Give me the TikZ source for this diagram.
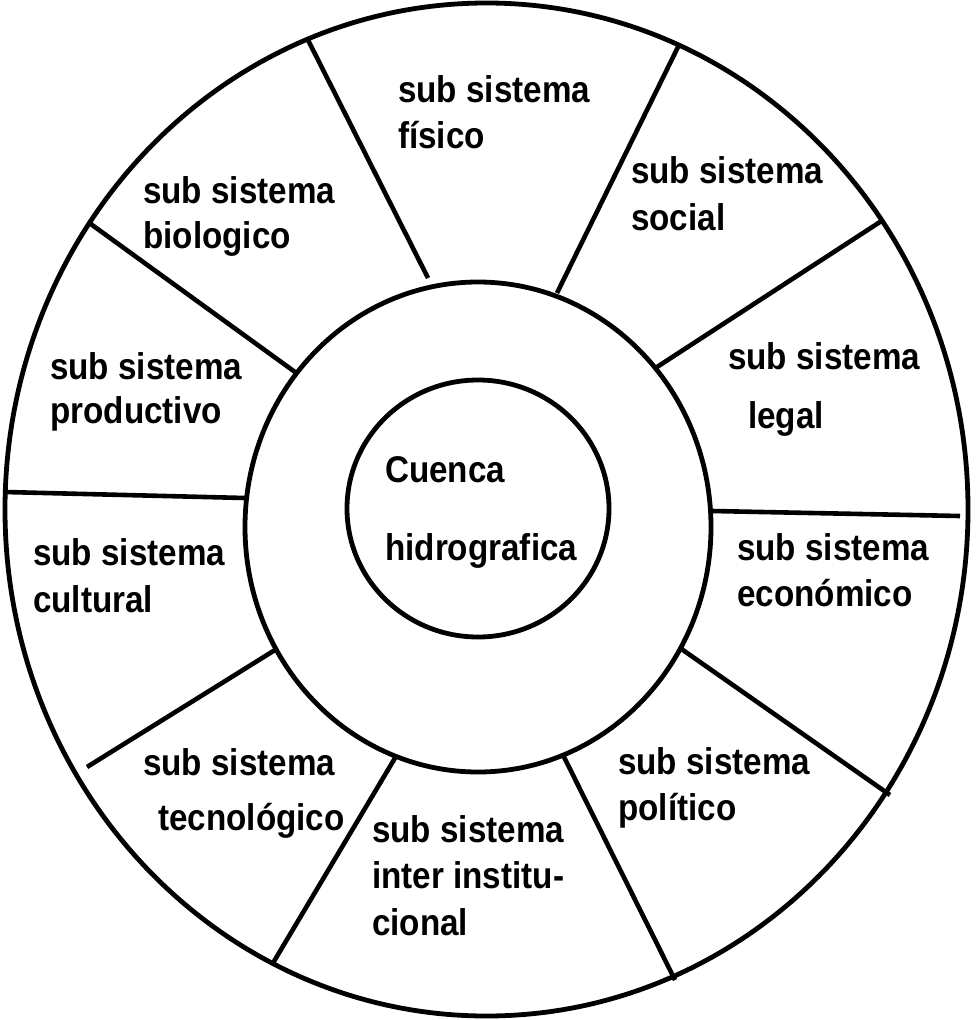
\documentclass[tikz,border=0pt]{standalone}
\usepackage{fontspec}
\usepackage{tikz}
\usetikzlibrary{
    positioning,
    shapes.geometric
}
\newfontfamily\lblfont{Liberation Sans}[FakeStretch=0.893]
\tikzset{
  ring/.style  = {draw, ellipse, line width=4.8pt, inner sep=0pt},
  spoke/.style = {line width=4.6pt}
}

\begin{document}
\begin{tikzpicture}[
    x=1pt, y=-1pt,
    lbl/.style={anchor=base west, inner sep=0pt,
                font=\lblfont\bfseries\fontsize{37.2}{44}\selectfont}
]
\useasboundingbox (0,0) rectangle (975,1020);

% rings
\node[ring, minimum width=963pt, minimum height=1013pt] (rim) at (486.5,509.5) {};
\node[ring, minimum width=466pt, minimum height=490pt] (band) at (478,527) {};
\node[ring, minimum width=262pt, minimum height=257pt] (hub) at (478,508.5) {};

% spoke ends
\coordinate (in1) at (428,278);  \coordinate (out1) at (308,40);
\coordinate (in2) at (557,293);  \coordinate (out2) at (678,47);
\coordinate (in3) at (657,367);  \coordinate (out3) at (883,220);
\coordinate (in4) at (712,511);  \coordinate (out4) at (960,516);
\coordinate (in5) at (680,648);  \coordinate (out5) at (890,795);
\coordinate (in6) at (563,755);  \coordinate (out6) at (675,980);
\coordinate (in7) at (395,758);  \coordinate (out7) at (273,963);
\coordinate (in8) at (275,650);  \coordinate (out8) at (87,767);
\coordinate (in9) at (245,498);  \coordinate (out9) at (5,492);
\coordinate (in10) at (295,372); \coordinate (out10) at (88,222);

\draw[spoke] (in1) -- (out1);
\draw[spoke] (in2) -- (out2);
\draw[spoke] (in3) -- (out3);
\draw[spoke] (in4) -- (out4);
\draw[spoke] (in5) -- (out5);
\draw[spoke] (in6) -- (out6);
\draw[spoke] (in7) -- (out7);
\draw[spoke] (in8) -- (out8);
\draw[spoke] (in9) -- (out9);
\draw[spoke] (in10) -- (out10);

% centre
\node[lbl] (cue1) at (385,482) {Cuenca};
\node[lbl] (cue2) at (385,560) {hidrografica};

% sectors
\node[lbl] (fis1) at (398,102) {sub sistema};
\node[lbl] (fis2) at (398,148) {físico};
\node[lbl] (soc1) at (631,183) {sub sistema};
\node[lbl] (soc2) at (631,230) {social};
\node[lbl] (leg1) at (728,369) {sub sistema};
\node[lbl] (leg2) at (748,428) {legal};
\node[lbl] (eco1) at (737,560) {sub sistema};
\node[lbl] (eco2) at (737,606) {económico};
\node[lbl] (pol1) at (618,774) {sub sistema};
\node[lbl] (pol2) at (618,820) {político};
\node[lbl] (int1) at (372,842) {sub sistema};
\node[lbl] (int2) at (372,888) {inter institu-};
\node[lbl] (int3) at (372,935) {cional};
\node[lbl] (tec1) at (143,775) {sub sistema};
\node[lbl] (tec2) at (158,830) {tecnológico};
\node[lbl] (cul1) at (33,565) {sub sistema};
\node[lbl] (cul2) at (33,612) {cultural};
\node[lbl] (pro1) at (50,379) {sub sistema};
\node[lbl] (pro2) at (50,423) {productivo};
\node[lbl] (bio1) at (143,203) {sub sistema};
\node[lbl] (bio2) at (143,248) {biologico};
\end{tikzpicture}
\end{document}
